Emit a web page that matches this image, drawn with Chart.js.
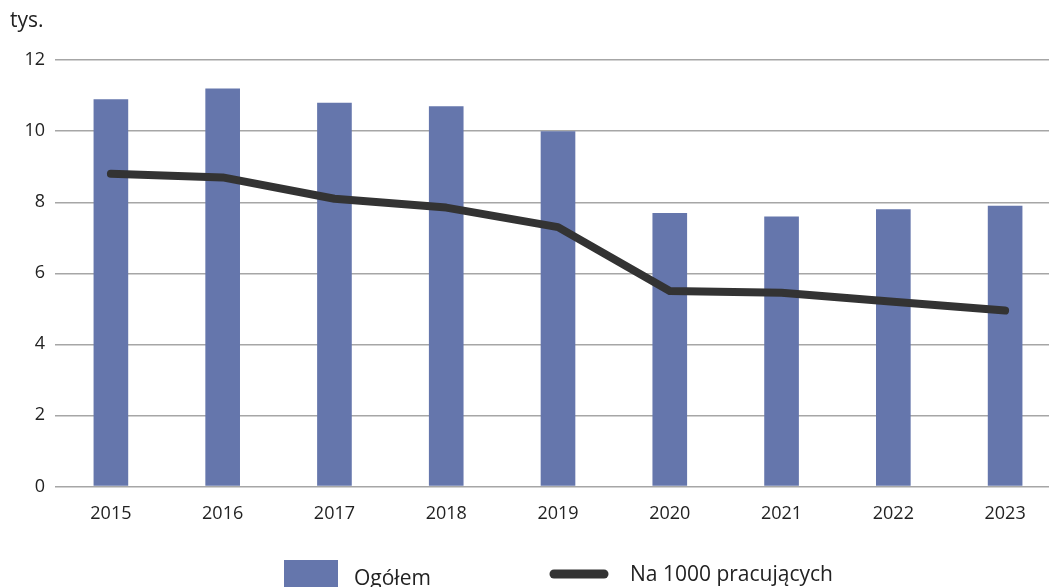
<!DOCTYPE html>
<html>
<head>
<meta charset="utf-8">
<script src="https://cdn.jsdelivr.net/npm/chart.js@4.4.1/dist/chart.umd.min.js"></script>
<style>
  html, body { margin: 0; padding: 0; background: #fff; overflow: hidden; }
  #wrap { position: relative; width: 1061px; height: 605px; }
</style>
</head>
<body>
<div id="wrap"><canvas id="chart"></canvas></div>
<script>
// dane
var years = ['2015', '2016', '2017', '2018', '2019', '2020', '2021', '2022', '2023'];
var ogolem = [10.9, 11.2, 10.8, 10.7, 10.0, 7.7, 7.6, 7.8, 7.9];
var na1000 = [8.8, 8.7, 8.1, 7.85, 7.3, 5.5, 5.45, 5.2, 4.95];
var yTicks = [0, 2, 4, 6, 8, 10, 12];

var FONT = "'Open Sans', sans-serif";
var BAR_COLOR = '#6576ac';
var LINE_COLOR = '#333333';

// legenda pod wykresem (rysowana recznie, bo w oryginale jest przycieta)
var legendPlugin = {
  id: 'bottomLegend',
  afterDraw: function (chart) {
    var ctx = chart.ctx;
    ctx.save();
    ctx.fillStyle = BAR_COLOR;
    ctx.fillRect(284, 560, 54, 32);
    ctx.strokeStyle = LINE_COLOR;
    ctx.lineWidth = 9;
    ctx.lineCap = 'round';
    ctx.beginPath();
    ctx.moveTo(554, 574);
    ctx.lineTo(604, 574);
    ctx.stroke();
    ctx.fillStyle = '#222';
    ctx.font = '21px ' + FONT;
    ctx.textBaseline = 'middle';
    ctx.fillText('Ogółem', 354, 579);
    ctx.fillText('Na 1000 pracujących', 630, 575);
    ctx.restore();
  }
};

var data = {
  labels: years,
  datasets: [
    {
      type: 'line',
      label: 'Na 1000 pracujących',
      data: na1000,
      borderColor: LINE_COLOR,
      backgroundColor: LINE_COLOR,
      borderWidth: 8,
      borderCapStyle: 'round',
      borderJoinStyle: 'round',
      pointRadius: 0,
      tension: 0,
      order: 1
    },
    {
      type: 'bar',
      label: 'Ogółem',
      data: ogolem,
      backgroundColor: BAR_COLOR,
      barPercentage: 0.31,
      categoryPercentage: 1,
      order: 2
    }
  ]
};

var config = {
  data: data,
  plugins: [legendPlugin],
  options: {
    responsive: true,
    maintainAspectRatio: false,
    animation: false,
    layout: { padding: { left: 10, right: 0, top: 6, bottom: 63 } },
    plugins: {
      title: {
        display: true,
        text: 'tys.',
        align: 'start',
        color: '#222',
        font: { family: FONT, size: 21, weight: 'normal' },
        padding: { top: 2, bottom: 27 }
      },
      legend: { display: false },
      tooltip: { enabled: false }
    },
    scales: {
      x: {
        grid: { display: false, drawTicks: false },
        border: { display: false },
        ticks: { color: '#222', font: { family: FONT, size: 18 }, padding: 17 }
      },
      y: {
        min: 0,
        max: 12,
        afterBuildTicks: function (scale) {
          scale.ticks = yTicks.map(function (v) { return { value: v }; });
        },
        afterFit: function (scale) { scale.width = 45; },
        grid: { color: '#a6a6a6', lineWidth: 1.5, drawTicks: false },
        border: { display: false },
        ticks: { color: '#222', font: { family: FONT, size: 18 }, padding: 10 }
      }
    }
  }
};

new Chart(document.getElementById('chart'), config);
</script>
</body>
</html>
